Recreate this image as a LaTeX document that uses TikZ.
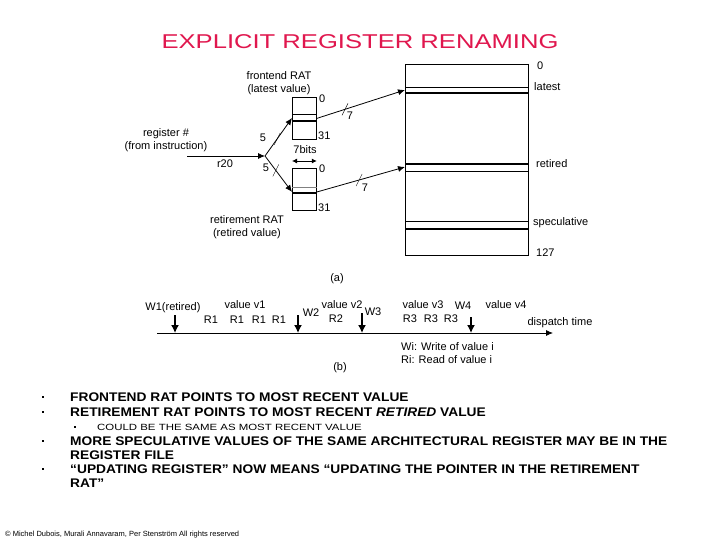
\documentclass[tikz,border=0pt]{standalone}
\usepackage{fontspec}
\setmainfont{Liberation Sans}
\newfontfamily\titlefont{Liberation Sans}[FakeStretch=1.28]
\newfontfamily\itemfont{Liberation Sans}[FakeStretch=1.1]
\newfontfamily\subfont{Liberation Sans}[FakeStretch=1.27]
\usepackage{xcolor}
\usetikzlibrary{arrows.meta,positioning,calc}
\definecolor{Title}{HTML}{E0174E}

\begin{document}
\begin{tikzpicture}[x=1pt,y=-1pt,
  lbl/.style={font=\fontsize{11}{12.5}\selectfont,inner sep=0pt},
  rat/.style={draw,thick,minimum width=24pt,minimum height=42pt,inner sep=0pt,anchor=north west},
  bus/.style={-{Latex[length=7pt,width=6pt]},thick},
  down/.style={-{Latex[length=8pt,width=8pt]},line width=1.4pt},
  item/.style={font=\itemfont\bfseries\fontsize{12.5}{14}\selectfont,anchor=west,inner sep=0pt},
  subitem/.style={font=\subfont\fontsize{9}{10}\selectfont,anchor=west,inner sep=0pt},
  bul/.style={fill,minimum size=2.6pt,inner sep=0pt}]
\useasboundingbox (0,0) rectangle (720,540);
\node[font=\titlefont\fontsize{20}{24}\selectfont,text=Title] (title) at (360,42) {EXPLICIT REGISTER RENAMING};
% register file
\node[draw,thick,minimum width=123pt,minimum height=191pt,inner sep=0pt,anchor=north west] (rf) at (405,64) {};
\draw[line width=1.3pt] (rf.north east) -- (rf.south east);
\foreach \y/\w in {87/0.5pt,93/1.3pt,164/1.3pt,171/0.5pt,221/0.5pt,229/1.3pt}
  \draw[line width=\w] (rf.west |- 0,\y) -- (rf.east |- 0,\y);
\node[lbl,anchor=west] (r0) at (537,66) {0};
\node[lbl,anchor=west] (latest) at (534,87) {latest};
\node[lbl,anchor=west] (retired) at (536,164) {retired};
\node[lbl,anchor=west] (spec) at (533,223) {speculative};
\node[lbl,anchor=west] (r127) at (536,253) {127};
% the two RATs
\node[rat] (fe) at (292,97) {};
\node[rat] (rr) at (292,168) {};
\draw (fe.west |- 0,114) -- (fe.east |- 0,114);
\draw[line width=1.3pt] (fe.west |- 0,121) -- (fe.east |- 0,121);
\draw[gray] (rr.west |- 0,187) -- (rr.east |- 0,187);
\draw[line width=1.1pt] (rr.west |- 0,193) -- (rr.east |- 0,193);
\node[lbl,anchor=west] (fe0) at (319,99) {0};
\node[lbl,anchor=west] (fe31) at (318,136) {31};
\node[lbl,anchor=west] (rr0) at (319,169) {0};
\node[lbl,anchor=west] (rr31) at (318,208) {31};
\node[lbl,align=center] (felbl) at (279,83) {frontend RAT\\(latest value)};
\node[lbl,align=center] (rrlbl) at (247,227) {retirement RAT\\(retired value)};
\node[lbl] (bits) at (305,150) {7bits};
\draw[{Latex[length=5pt,width=5pt]}-{Latex[length=5pt,width=5pt]},thick] (rr.north west |- 0,161) -- (rr.north east |- 0,161);
% register number in
\node[lbl,align=center] (regno) at (166,140) {register \#\\(from instruction)};
\coordinate (in) at (187,156);
\coordinate (br) at (265,156);
\node[lbl] (r20) at (225,164) {r20};
\draw[bus] (in) -- (br);
\draw[bus] (br) -- coordinate[pos=0.45] (s1) (fe.west |- 0,118);
\draw[bus] (br) -- coordinate[pos=0.4] (s2) (rr.west |- 0,192);
\draw[bus] (fe.east) -- coordinate[pos=0.32] (s3) (rf.west |- 0,90);
\draw[bus] (rr.east |- 0,192) -- coordinate[pos=0.48] (s4) (rf.west |- 0,167);
\foreach \s in {s1,s2,s3,s4}
  \draw ($(\s)+(-3,6)$) -- ($(\s)+(3,-6)$);
\node[lbl] (n5a) at (263,138) {5};
\node[lbl] (n5b) at (266,168) {5};
\node[lbl] (n7a) at (350,116) {7};
\node[lbl] (n7b) at (365,188) {7};
\node[lbl] (capa) at (337,279) {(a)};
% dispatch time line
\coordinate (t0) at (157,333);
\coordinate (t1) at (553,333);
\draw[bus] (t0) -- (t1);
\foreach \w/\x/\y in {w1/175/315,w2/298/315,w3/362/313,w4/471/317}{
  \coordinate (\w) at (\x,\y);
  \draw[down] (\w) -- (\w |- t0);}
\node[lbl] (w1lbl) at (173,308) {W1(retired)};
\node[lbl] (w2lbl) at (311,313) {W2};
\node[lbl] (w3lbl) at (373,312) {W3};
\node[lbl] (w4lbl) at (463,306) {W4};
\node[lbl] (v1) at (245,305) {value v1};
\node[lbl] (v2) at (342,305) {value v2};
\node[lbl] (v3) at (423,305) {value v3};
\node[lbl] (v4) at (506,305) {value v4};
\foreach \x in {211,237,259,279}
  \node[lbl] at (\x,320) {R1};
\node[lbl] (rd2) at (336,319) {R2};
\foreach \x in {410,431,451}
  \node[lbl] at (\x,319) {R3};
\node[lbl] (dt) at (560,323) {dispatch time};
\node[lbl,anchor=west,align=left] (legend) at (401,353) {Wi: Write of value i\\Ri: Read of value i};
\node[lbl] (capb) at (340,368) {(b)};
% bullets
\foreach \y in {397,412,441,469}
  \node[bul] at (43,\y) {};
\node[bul,minimum size=2pt] at (75,427) {};
\node[item] (b1) at (70,397) {FRONTEND RAT POINTS TO MOST RECENT VALUE};
\node[item] (b2) at (70,412) {RETIREMENT RAT POINTS TO MOST RECENT \textit{RETIRED} VALUE};
\node[subitem] (b2a) at (97,427) {COULD BE THE SAME AS MOST RECENT VALUE};
\node[item] (b3) at (70,441) {MORE SPECULATIVE VALUES OF THE SAME ARCHITECTURAL REGISTER MAY BE IN THE};
\node[item] (b3b) at (70,455) {REGISTER FILE};
\node[item] (b4) at (70,469) {“UPDATING REGISTER” NOW MEANS “UPDATING THE POINTER IN THE RETIREMENT};
\node[item] (b4b) at (70,483) {RAT”};
\node[font=\fontsize{7.5}{8}\selectfont,anchor=west,inner sep=0pt] (foot) at (5,535) {© Michel Dubois, Murali Annavaram, Per Stenström All rights reserved};
\end{tikzpicture}
\end{document}
